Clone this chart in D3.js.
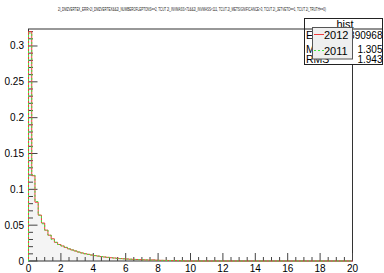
<!DOCTYPE html>
<html>
<head>
<meta charset="utf-8">
<script src="https://cdn.jsdelivr.net/npm/d3@7"></script>
<style>
  body { margin: 0; background: #fff; }
  svg { display: block; font-family: "Liberation Sans", Arial, sans-serif; }
</style>
</head>
<body>
<svg width="384" height="273"></svg>
<script>
// bins are 0.2 wide starting at 0, only the non-empty part up to 10 is listed
const binWidth = 0.2;
const h2012 = [
  0.320, 0.119, 0.082, 0.064, 0.053, 0.043, 0.036, 0.031, 0.026, 0.023,
  0.021, 0.019, 0.017, 0.0155, 0.014, 0.0125, 0.0113, 0.0102, 0.0093, 0.0084,
  0.0076, 0.0069, 0.0062, 0.0056, 0.0051, 0.0046, 0.0042, 0.0038, 0.0034, 0.0031,
  0.0028, 0.0025, 0.0023, 0.0021, 0.0019, 0.0017, 0.0015, 0.0014, 0.0016, 0.0012,
  0.0010, 0.0009, 0.0008, 0.0007, 0.0006, 0.0005, 0.0004, 0.0003, 0, 0
];
const h2011 = [
  0.318, 0.120, 0.083, 0.064, 0.052, 0.043, 0.036, 0.030, 0.026, 0.023,
  0.021, 0.019, 0.0168, 0.0153, 0.014, 0.0126, 0.0112, 0.0101, 0.0092, 0.0083,
  0.0075, 0.0068, 0.0061, 0.0055, 0.0050, 0.0046, 0.0041, 0.0037, 0.0033, 0.0030,
  0.0027, 0.0025, 0.0022, 0.0020, 0.0018, 0.0016, 0.0015, 0.0013, 0.0012, 0.0011,
  0.0010, 0.0009, 0.0008, 0.0007, 0.0006, 0.0005, 0.0004, 0.0003, 0, 0
];
const xTicks = [0, 2, 4, 6, 8, 10, 12, 14, 16, 18, 20];
const yTicks = [0, 0.05, 0.1, 0.15, 0.2, 0.25, 0.3];
const statNames = ['Entries', 'Mean', 'RMS'];
const statValues = ['3890968', '1.305', '1.943'];
const legendNames = ['2012', '2011'];
const title = '2l_DMZVERTEX_ERR>2l_DMZVERTEX&&2l_NUMBEROFLEPTONS==2, TCUT 2l_INVMASS>71&&2l_INVMASS<111, TCUT 2l_METSIGNIFICANCE>3, TCUT 2l_JETVETO==1, TCUT 2l_TRUTH==0)';

const svg = d3.select('svg');
const x = d3.scaleLinear().domain([0, 20]).range([28.5, 352.5]);
const y = d3.scaleLinear().domain([0, 0.3237]).range([261, 29]);

// step path for a histogram
function steps(vals) {
  let d = `M${x(0)},${y(0)}`;
  vals.forEach((v, i) => {
    d += `L${x(i * binWidth)},${y(v)}L${x((i + 1) * binWidth)},${y(v)}`;
  });
  d += `L${x(vals.length * binWidth)},${y(0)}L${x(20)},${y(0)}`;
  return d;
}

// title
svg.append('text')
  .attr('x', 192).attr('y', 11)
  .attr('text-anchor', 'middle')
  .attr('font-size', 4.5)
  .attr('textLength', 268)
  .attr('lengthAdjust', 'spacingAndGlyphs')
  .attr('fill', '#222')
  .text(title);

// fill under histogram
svg.append('path')
  .attr('d', steps(h2012) + 'Z')
  .attr('fill', '#f4f4f4')
  .attr('stroke', 'none');

// frame
svg.append('rect')
  .attr('x', x(0)).attr('y', y.range()[1])
  .attr('width', x(20) - x(0)).attr('height', y(0) - y.range()[1])
  .attr('fill', 'none').attr('stroke', '#333').attr('stroke-width', 1);

// axes with ROOT style ticks (pointing inside)
const g = svg.append('g').attr('stroke', '#444').attr('stroke-width', 1);
d3.range(0, 20.01, 0.5).forEach(t => {
  const major = xTicks.includes(t);
  g.append('line')
    .attr('x1', x(t)).attr('x2', x(t))
    .attr('y1', y(0)).attr('y2', y(0) - (major ? 8 : 4));
});
d3.range(0, 0.3201, 0.01).forEach(t => {
  const major = yTicks.some(v => Math.abs(v - t) < 1e-6);
  g.append('line')
    .attr('x1', x(0)).attr('x2', x(0) + (major ? 9 : 4.5))
    .attr('y1', y(t)).attr('y2', y(t));
});

svg.append('g').selectAll('text')
  .data(xTicks).join('text')
  .attr('x', d => x(d)).attr('y', 272)
  .attr('text-anchor', 'middle')
  .attr('font-size', 10)
  .text(d => d);

svg.append('g').selectAll('text')
  .data(yTicks).join('text')
  .attr('x', 24).attr('y', d => y(d) + 3.5)
  .attr('text-anchor', 'end')
  .attr('font-size', 10)
  .text(d => d3.format('~g')(d));

// histograms
svg.append('path')
  .attr('d', steps(h2012))
  .attr('fill', 'none')
  .attr('stroke', '#f03c3c')
  .attr('stroke-width', 1);
svg.append('path')
  .attr('d', steps(h2011))
  .attr('fill', 'none')
  .attr('stroke', '#3ee83e')
  .attr('stroke-width', 1)
  .attr('stroke-dasharray', '2,2');

// stats box
const sb = svg.append('g');
sb.append('rect')
  .attr('x', 304.5).attr('y', 18.5).attr('width', 78).attr('height', 46)
  .attr('fill', '#fff').attr('stroke', '#222');
sb.append('line')
  .attr('x1', 304.5).attr('x2', 382.5).attr('y1', 29).attr('y2', 29)
  .attr('stroke', '#222');
sb.append('text')
  .attr('x', 345).attr('y', 27.5)
  .attr('text-anchor', 'middle').attr('font-size', 11)
  .text('hist');
const rowY = [39, 52.5, 63];
statNames.forEach((n, i) => {
  sb.append('text').attr('x', 306).attr('y', rowY[i])
    .attr('font-size', 10.5).text(n);
  sb.append('text').attr('x', 382.5).attr('y', rowY[i])
    .attr('text-anchor', 'end').attr('font-size', 10).text(statValues[i]);
});

// legend
const lg = svg.append('g');
lg.append('rect')
  .attr('x', 312.5).attr('y', 27.5).attr('width', 40).attr('height', 31.5)
  .attr('fill', '#efefef').attr('stroke', '#555');
const legY = [34.5, 50.5];
const legStyle = [{c: '#f03c3c', dash: null}, {c: '#3ee83e', dash: '2,2'}];
legendNames.forEach((n, i) => {
  lg.append('line')
    .attr('x1', 314).attr('x2', 324).attr('y1', legY[i]).attr('y2', legY[i])
    .attr('stroke', legStyle[i].c)
    .attr('stroke-dasharray', legStyle[i].dash);
  lg.append('text')
    .attr('x', 324).attr('y', legY[i] + 4)
    .attr('font-size', 11).text(n);
});
</script>
</body>
</html>
